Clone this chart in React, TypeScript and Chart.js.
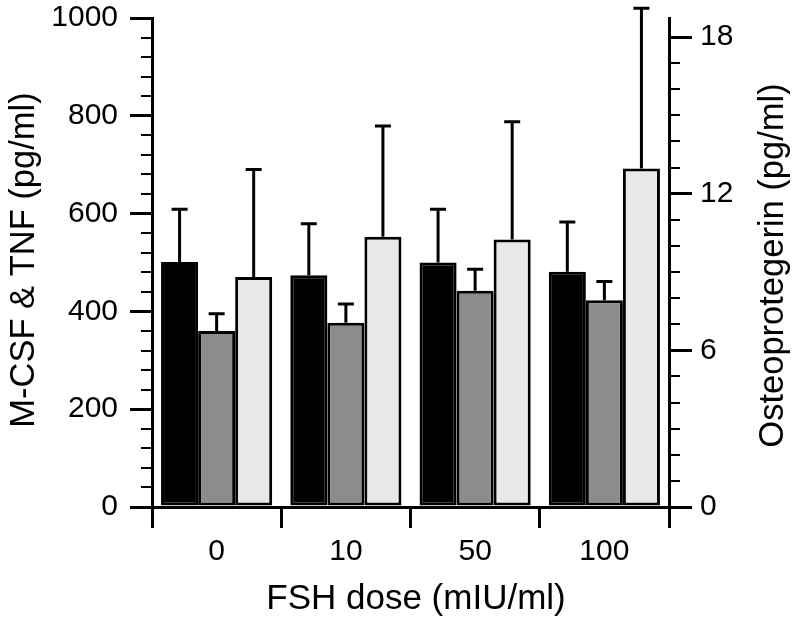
import React, { useEffect, useRef } from "react";
import { Chart, registerables } from "chart.js";

Chart.register(...registerables);

// ---- data ----
const doses = ["0", "10", "50", "100"];
const mcsf = [501, 474, 500, 481];
const mcsfSD = [108, 105, 109, 102];
const tnf = [360, 377, 442, 423];
const tnfSD = [35, 38, 44, 38];
const opg = [8.81, 10.35, 10.25, 12.97];
const opgSD = [4.12, 4.24, 4.51, 6.13];
const leftTicks = [0, 200, 400, 600, 800, 1000];
const rightTicks = [0, 6, 12, 18];
const leftMinorStep = 40;
const rightMinorStep = 1;
const leftMax = 1000;
const rightMax = 18.73;

const xTitle = "FSH dose (mIU/ml)";
const yTitle = "M-CSF & TNF (pg/ml)";
const y1Title = "Osteoprotegerin (pg/ml)";

const TICK_FONT = { family: '"Liberation Sans", Arial, sans-serif', size: 30 };
const TITLE_FONT = '34.5px "Liberation Sans", Arial, sans-serif';
const LW = 3;

const errorBarPlugin = {
  id: "errorBars",
  afterDatasetsDraw(chart: any) {
    const ctx = chart.ctx;
    ctx.save();
    ctx.strokeStyle = "#000";
    ctx.lineWidth = LW;
    chart.data.datasets.forEach((ds: any, i: number) => {
      const meta = chart.getDatasetMeta(i);
      const scale = chart.scales[meta.yAxisID];
      meta.data.forEach((el: any, j: number) => {
        const v = ds.data[j];
        const e = ds.errors[j];
        const yTop = scale.getPixelForValue(v + e);
        ctx.beginPath();
        ctx.moveTo(el.x, el.y);
        ctx.lineTo(el.x, yTop);
        ctx.moveTo(el.x - 8, yTop);
        ctx.lineTo(el.x + 8, yTop);
        ctx.stroke();
      });
    });
    ctx.restore();
  },
};

const minorTickPlugin = {
  id: "minorTicks",
  afterDraw(chart: any) {
    const ctx = chart.ctx;
    const y = chart.scales.y;
    const y1 = chart.scales.y1;
    const area = chart.chartArea;
    ctx.save();
    ctx.strokeStyle = "#000";
    ctx.lineWidth = 2;
    for (let v = 0; v <= leftMax + 1e-6; v += leftMinorStep) {
      if (leftTicks.includes(v)) continue;
      const py = Math.round(y.getPixelForValue(v));
      ctx.beginPath();
      ctx.moveTo(area.left - 11, py);
      ctx.lineTo(area.left, py);
      ctx.stroke();
    }
    for (let v = 0; v <= rightMax + 1e-6; v += rightMinorStep) {
      if (rightTicks.includes(v)) continue;
      const py = Math.round(y1.getPixelForValue(v));
      ctx.beginPath();
      ctx.moveTo(area.right, py);
      ctx.lineTo(area.right + 11, py);
      ctx.stroke();
    }
    ctx.restore();
  },
};

const titlePlugin = {
  id: "titles",
  afterDraw(chart: any) {
    const ctx = chart.ctx;
    ctx.save();
    ctx.fillStyle = "#000";
    ctx.font = TITLE_FONT;
    ctx.textAlign = "center";
    ctx.textBaseline = "alphabetic";
    ctx.save();
    ctx.translate(34, 260);
    ctx.rotate(-Math.PI / 2);
    ctx.fillText(yTitle, 0, 0);
    ctx.restore();
    ctx.save();
    ctx.translate(783, 265.5);
    ctx.rotate(-Math.PI / 2);
    ctx.fillText(y1Title, 0, 0);
    ctx.restore();
    ctx.font = '35px "Liberation Sans", Arial, sans-serif';
    ctx.fillText(xTitle, 416, 609);
    ctx.restore();
  },
};

export default function App() {
  const ref = useRef<HTMLCanvasElement | null>(null);

  useEffect(() => {
    if (!ref.current) return;
    const barCommon = {
      borderColor: "#000000",
      borderWidth: LW,
      borderSkipped: false,
    };
    const chart = new Chart(ref.current, {
      type: "bar",
      data: {
        labels: doses,
        datasets: [
          { label: "M-CSF", data: mcsf, errors: mcsfSD, yAxisID: "y", backgroundColor: "#000000", ...barCommon } as any,
          { label: "TNF", data: tnf, errors: tnfSD, yAxisID: "y", backgroundColor: "#8c8c8c", ...barCommon } as any,
          { label: "Osteoprotegerin", data: opg, errors: opgSD, yAxisID: "y1", backgroundColor: "#e8e8e8", ...barCommon } as any,
        ],
      },
      options: {
        animation: false,
        responsive: true,
        maintainAspectRatio: false,
        datasets: { bar: { categoryPercentage: 0.86, barPercentage: 1.0 } },
        layout: { padding: { top: 18, left: 0, right: 0, bottom: 0 } },
        plugins: {
          legend: { display: false },
          tooltip: { enabled: false },
        },
        scales: {
          x: {
            type: "category",
            offset: true,
            grid: {
              display: true,
              offset: true,
              drawOnChartArea: false,
              drawTicks: true,
              tickLength: 21,
              tickWidth: LW,
              tickColor: "#000",
              lineWidth: LW,
              color: "#000",
            },
            border: { display: true, color: "#000", width: LW },
            ticks: { color: "#000", font: TICK_FONT, padding: 6, maxRotation: 0 },
            afterFit: (s: any) => {
              s.height = 116;
              s.paddingLeft = 0;
              s.paddingRight = 0;
            },
          },
          y: {
            type: "linear",
            position: "left",
            min: 0,
            max: leftMax,
            afterBuildTicks: (s: any) => {
              s.ticks = leftTicks.map((v) => ({ value: v }));
            },
            grid: {
              display: true,
              drawOnChartArea: false,
              drawTicks: true,
              tickLength: 22,
              tickWidth: LW,
              tickColor: "#000",
              lineWidth: LW,
              color: "#000",
            },
            border: { display: true, color: "#000", width: LW },
            ticks: { color: "#000", font: TICK_FONT, padding: 12, callback: (v: any) => String(v) },
            afterFit: (s: any) => {
              s.width = 152;
              s.paddingTop = 0;
              s.paddingBottom = 0;
            },
          },
          y1: {
            type: "linear",
            position: "right",
            min: 0,
            max: rightMax,
            afterBuildTicks: (s: any) => {
              s.ticks = rightTicks.map((v) => ({ value: v }));
            },
            grid: {
              display: true,
              drawOnChartArea: false,
              drawTicks: true,
              tickLength: 23,
              tickWidth: LW,
              tickColor: "#000",
              lineWidth: LW,
              color: "#000",
            },
            border: { display: true, color: "#000", width: LW },
            ticks: { color: "#000", font: TICK_FONT, padding: 8, callback: (v: any) => String(v) },
            afterFit: (s: any) => {
              s.width = 131;
              s.paddingTop = 0;
              s.paddingBottom = 0;
            },
          },
        },
      } as any,
      plugins: [errorBarPlugin, minorTickPlugin, titlePlugin],
    });
    return () => chart.destroy();
  }, []);

  return (
    <div
      style={{
        position: "absolute",
        left: 0,
        top: 0,
        width: 800,
        height: 623,
        background: "#fff",
      }}
    >
      <canvas ref={ref} />
    </div>
  );
}
